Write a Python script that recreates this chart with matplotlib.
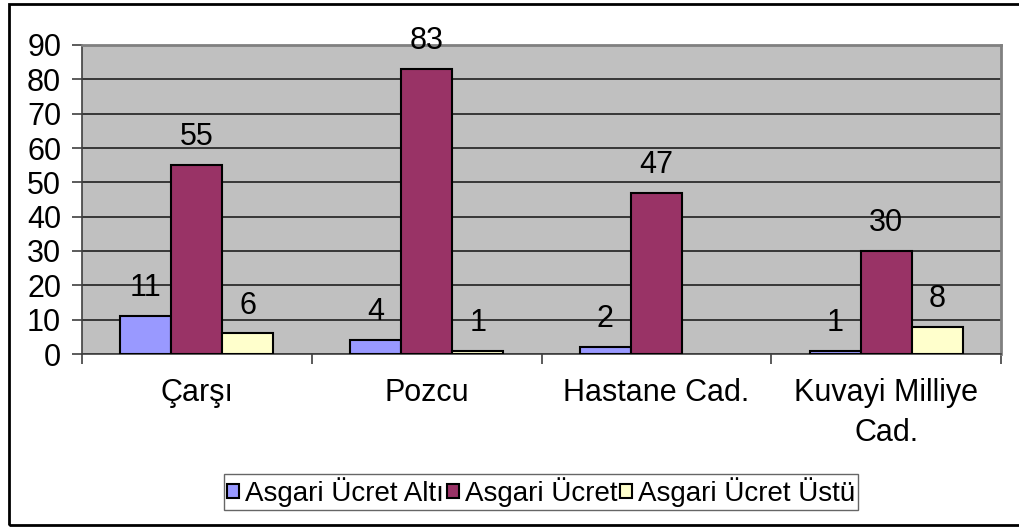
import matplotlib
matplotlib.use("Agg")
import matplotlib.pyplot as plt
from matplotlib.patches import Rectangle
import numpy as np

plt.rcParams['font.family'] = ['Liberation Sans', 'DejaVu Sans']

# data
categories = ['Çarşı', 'Pozcu', 'Hastane Cad.', 'Kuvayi Milliye\nCad.']
series_names = ['Asgari Ücret Altı', 'Asgari Ücret', 'Asgari Ücret Üstü']
alti = [11, 4, 2, 1]
asgari = [55, 83, 47, 30]
ustu = [6, 1, 0, 8]
colors = ['#9999FF', '#993366', '#FFFFCC']

FS = 22

fig = plt.figure(figsize=(10.19, 5.28), dpi=100)
ax = fig.add_axes([82 / 1019, 1 - 354 / 528, (1001 - 82) / 1019, (354 - 45) / 528])
ax.set_facecolor('#C0C0C0')

x = np.arange(len(categories))
w = 1 / 4.5
for i, (vals, name, c) in enumerate(zip([alti, asgari, ustu], series_names, colors)):
    pos = x + (i - 1) * w
    bars = ax.bar(pos, vals, width=w, color=c, edgecolor='black', linewidth=1.5,
                  label=name, zorder=3)
    for b, p, v in zip(bars, pos, vals):
        if v == 0:
            b.set_linewidth(0)
            continue
        ax.annotate(str(v), xy=(p, v), xytext=(0, 20), textcoords='offset points',
                    ha='center', va='center', fontsize=FS, zorder=4)

ax.set_ylim(0, 90)
ax.set_yticks(range(0, 91, 10))
ax.grid(axis='y', color='#202020', linewidth=1.2, zorder=1)
ax.set_xlim(-0.5, 3.5)
ax.set_xticks(np.arange(-0.5, 4, 1))
ax.set_xticklabels([])
ax.set_xticks(x, minor=True)
ax.set_xticklabels(categories, minor=True, fontsize=FS, linespacing=1.45)
ax.tick_params(axis='x', which='minor', length=0, pad=17)
ax.tick_params(axis='x', which='major', length=7, width=1.2, color='#404040')
ax.tick_params(axis='y', length=7, width=1.2, labelsize=FS, pad=8, color='#404040')

for s in ['top', 'right']:
    ax.spines[s].set_color('#808080')
    ax.spines[s].set_linewidth(2)
ax.spines['left'].set_color('#404040')
ax.spines['bottom'].set_color('#404040')
ax.spines['left'].set_linewidth(1.2)
ax.spines['bottom'].set_linewidth(1.2)

leg = fig.legend(loc='center', bbox_to_anchor=(541 / 1019, 1 - 492 / 528), ncol=3,
                 fontsize=20, frameon=True, fancybox=False, handlelength=0.45,
                 handleheight=0.45, handletextpad=0.2, columnspacing=0.1,
                 borderpad=0.1, borderaxespad=0, edgecolor='#404040')
leg.get_frame().set_linewidth(1)

# outer chart border
fig.patches.append(Rectangle((9 / 1019, 1 - 525 / 528), 1.1, (525 - 4) / 528,
                             transform=fig.transFigure, fill=False,
                             edgecolor='black', linewidth=2))

fig.savefig('out.png', dpi=100)
